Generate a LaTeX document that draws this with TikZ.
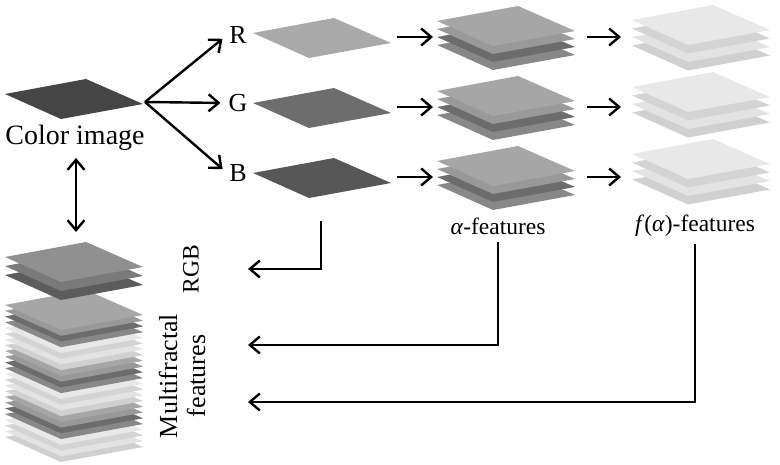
\documentclass[tikz,border=0pt]{standalone}
\usepackage{fontspec}
\setmainfont{Liberation Serif}
\usetikzlibrary{arrows.meta}
\definecolor{cimg}{HTML}{454545}
\definecolor{pR}{HTML}{A9A9A9}
\definecolor{pG}{HTML}{6D6D6D}
\definecolor{pB}{HTML}{575757}
\definecolor{a1}{HTML}{A6A6A6}
\definecolor{a2}{HTML}{999999}
\definecolor{a3}{HTML}{6C6C6C}
\definecolor{a4}{HTML}{888888}
\definecolor{f1}{HTML}{E8E8E8}
\definecolor{f2}{HTML}{D4D4D4}
\definecolor{f3}{HTML}{E3E3E3}
\definecolor{f4}{HTML}{D0D0D0}
\definecolor{m1}{HTML}{909090}
\definecolor{m2}{HTML}{7A7A7A}
\definecolor{m3}{HTML}{5C5C5C}
\newcommand\plate[3]{\fill[#3] (#1,#2) -- ++(81,-15) -- ++(57,25) -- ++(-82,15) -- cycle;}
\begin{document}
\begin{tikzpicture}[x=1pt,y=-1pt,
  arr/.style={line width=2.4pt,-{Straight Barb[length=10pt,width=17pt]}},
  darr/.style={line width=2.4pt,{Straight Barb[length=10pt,width=17pt]}-{Straight Barb[length=10pt,width=17pt]}},
  lbl/.style={font=\fontsize{26}{28}\selectfont, inner sep=2pt},
  flbl/.style={font=\fontsize{23.5}{26}\selectfont, inner sep=2pt}]
\useasboundingbox (0,0) rectangle (780,465);
% color image
\plate{5}{94}{cimg}
% single channel planes
\plate{253}{33}{pR}
\plate{253}{103}{pG}
\plate{253}{173}{pB}
% alpha stacks
\foreach \y in {21,91,161}{
  \plate{437}{\y+24}{a4}
  \plate{437}{\y+16}{a3}
  \plate{437}{\y+8}{a2}
  \plate{437}{\y}{a1}
}
% f(alpha) stacks
\foreach \y in {20,87,154}{
  \plate{632}{\y+25.5}{f4}
  \plate{632}{\y+17}{f3}
  \plate{632}{\y+8.5}{f2}
  \plate{632}{\y}{f1}
}
% multifractal stack
\foreach \c [count=\k] in {f4,f3,f2,f1,a4,a3,a2,a1,f4,f3,f2,f1,a4,a3,a2,a1,f4,f3,f2,f1,a4,a3,a2,a1}{
  \pgfmathsetmacro\yy{305+(24-\k)*5.74}
  \plate{5}{\yy}{\c}
}
\plate{5}{275}{m3}
\plate{5}{266}{m2}
\plate{5}{257}{m1}
% labels
\node[lbl, font=\fontsize{28}{30}\selectfont] (cil) at (75,138) {Color image};
\node[lbl] (R) at (238,35) {R};
\node[lbl] (G) at (238,103) {G};
\node[lbl] (B) at (238,173) {B};
\node[flbl] (af) at (498,226) {\textit{α}-features};
\node[flbl] (ff) at (695,226) {\textit{f}(\textit{α})-features};
\node[flbl, rotate=90] (rgb) at (191,269) {RGB};
\node[lbl, rotate=90, align=center] (mf) at (182,376) {Multifractal\\features};
% coordinates
\coordinate (ci) at (145,102);
\coordinate (ciB) at (76,158);
\coordinate (mtop) at (76,232);
\coordinate (Rp) at (397,37);  \coordinate (Ra) at (433,37);
\coordinate (Gp) at (397,107); \coordinate (Ga) at (433,107);
\coordinate (Bp) at (397,177); \coordinate (Ba) at (433,177);
\coordinate (Ra2) at (587,37);  \coordinate (Rf) at (621,37);
\coordinate (Ga2) at (587,107); \coordinate (Gf) at (621,107);
\coordinate (Ba2) at (587,177); \coordinate (Bf) at (621,177);
\coordinate (Bo) at (321,221);
\coordinate (in1) at (248,269);
\coordinate (in2) at (248,345);
\coordinate (in3) at (248,402);
% connectors
\draw[arr, shorten >=6pt] (ci) -- (R.west);
\draw[arr, shorten >=6pt] (ci) -- (G.west);
\draw[arr, shorten >=6pt] (ci) -- (B.west);
\draw[darr] (ciB) -- (mtop);
\draw[arr] (Rp) -- (Ra);
\draw[arr] (Gp) -- (Ga);
\draw[arr] (Bp) -- (Ba);
\draw[arr] (Ra2) -- (Rf);
\draw[arr] (Ga2) -- (Gf);
\draw[arr] (Ba2) -- (Bf);
\draw[arr] (Bo) |- (in1);
\draw[arr, shorten <=5pt] (af.south) |- (in2);
\draw[arr, shorten <=5pt] (ff.south) |- (in3);
\end{tikzpicture}
\end{document}
